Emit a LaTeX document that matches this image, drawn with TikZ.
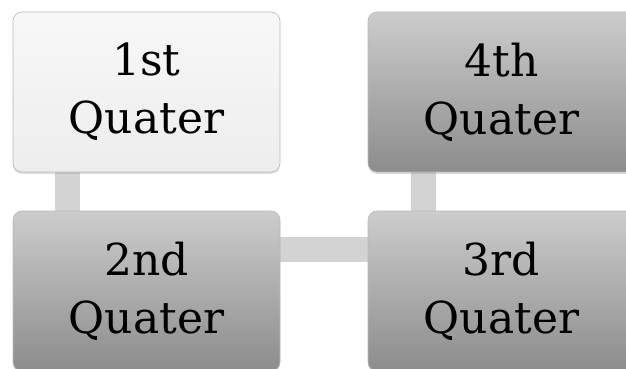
\documentclass[tikz,border=0pt]{standalone}
\usepackage{fontspec}
\setmainfont{DejaVu Serif}
\usetikzlibrary{shadows}

\definecolor{linkgray}{HTML}{D3D3D3}
\definecolor{edgegray}{HTML}{B8B8B8}
\tikzset{
    quarter/.style={shape=rectangle, rounded corners=9pt, draw=edgegray, line width=0.6pt,
        minimum width=267pt, minimum height=160pt, align=center, inner sep=0pt,
        font=\fontsize{44}{58}\selectfont,
        drop shadow={shadow xshift=0pt, shadow yshift=-2pt, opacity=0.25}},
    light/.style={quarter, top color=white!97!black, bottom color=white!93!black},
    dark/.style={quarter, top color=white!80!black, bottom color=white!55!black},
    link/.style={draw=linkgray, line width=25pt}
}

\begin{document}
\begin{tikzpicture}[x=1pt, y=-1pt]
    \useasboundingbox (0,0) rectangle (626,369);
    \draw[link] (67.5,150) coordinate (L1) -- (67.5,230) coordinate (L2);
    \draw[link] (260,249.5) coordinate (L3) -- (390,249.5) coordinate (L4);
    \draw[link] (423,150) coordinate (L5) -- (423,230) coordinate (L6);
    \node[light] at (146.5,92) (Q1) {1st\\Quater};
    \node[dark] at (146.5,291) (Q2) {2nd\\Quater};
    \node[dark] at (501.5,291) (Q3) {3rd\\Quater};
    \node[dark] at (501.5,92) (Q4) {4th\\Quater};
\end{tikzpicture}
\end{document}
